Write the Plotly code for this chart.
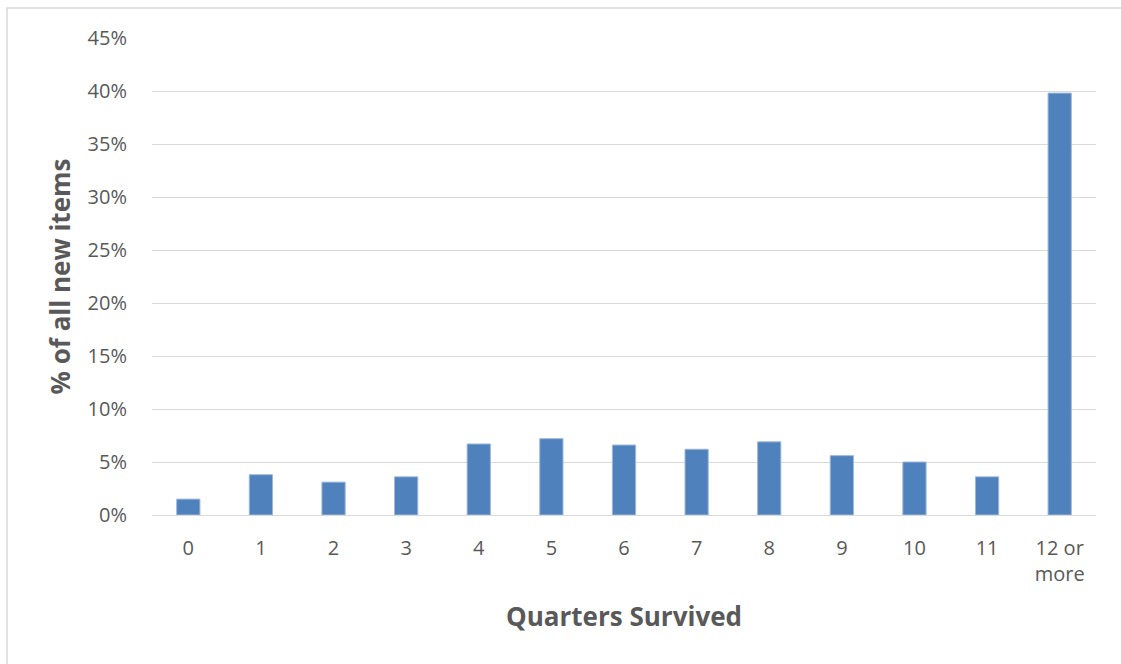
import plotly.graph_objects as go

# Share of new items by number of quarters they survived
quarters = ["0", "1", "2", "3", "4", "5", "6", "7", "8", "9", "10", "11", "12 or more"]
tick_text = ["0", "1", "2", "3", "4", "5", "6", "7", "8", "9", "10", "11", "12 or<br>more"]
share_pct = [1.5, 3.8, 3.1, 3.6, 6.7, 7.2, 6.6, 6.2, 6.9, 5.6, 5.0, 3.6, 39.8]
y_ticks = [0, 5, 10, 15, 20, 25, 30, 35, 40, 45]

FONT = "'Open Sans', sans-serif"
TEXT = "#595959"

fig = go.Figure(
    go.Bar(
        x=quarters,
        y=share_pct,
        marker=dict(color="#4F81BD", line=dict(color="#9BB7DA", width=1)),
        hoverinfo="x+y",
    )
)

W, H = 1121, 664
L, R, T, B = 152, 25, 38, 149
pw, ph = W - L - R, H - T - B


def px_x(p):
    return (p - L) / pw


def px_y(p):
    return (H - B - p) / ph


fig.update_layout(
    width=W,
    height=H,
    margin=dict(l=L, r=R, t=T, b=B),
    paper_bgcolor="white",
    plot_bgcolor="white",
    bargap=0.68,
    showlegend=False,
    font=dict(family=FONT, color=TEXT, size=20),
    xaxis=dict(
        tickmode="array",
        tickvals=quarters,
        ticktext=tick_text,
        showgrid=False,
        zeroline=False,
        showline=False,
        ticks="outside",
        ticklen=15,
        tickcolor="rgba(0,0,0,0)",
        tickfont=dict(size=20, color=TEXT),
        title=dict(
            text="<b>Quarters Survived</b>",
            font=dict(size=26, color=TEXT),
            standoff=21,
        ),
    ),
    yaxis=dict(
        range=[0, 45],
        tickmode="array",
        tickvals=y_ticks,
        ticktext=[f"{v}%" for v in y_ticks],
        showgrid=True,
        gridcolor="#D9D9D9",
        gridwidth=1,
        zeroline=True,
        zerolinecolor="#D9D9D9",
        zerolinewidth=1,
        showline=False,
        ticks="outside",
        ticklen=20,
        tickcolor="rgba(0,0,0,0)",
        tickfont=dict(size=20, color=TEXT),
        title=dict(
            text="<b>% of all new items</b>",
            font=dict(size=26, color=TEXT),
            standoff=9,
        ),
    ),
    shapes=[
        dict(
            type="rect",
            xref="paper",
            yref="paper",
            x0=px_x(7),
            x1=px_x(W + 20),
            y0=px_y(H + 20),
            y1=px_y(8),
            line=dict(color="#D9D9D9", width=1.5),
            fillcolor="rgba(0,0,0,0)",
            layer="below",
        )
    ],
)

fig.write_html("out.html")
